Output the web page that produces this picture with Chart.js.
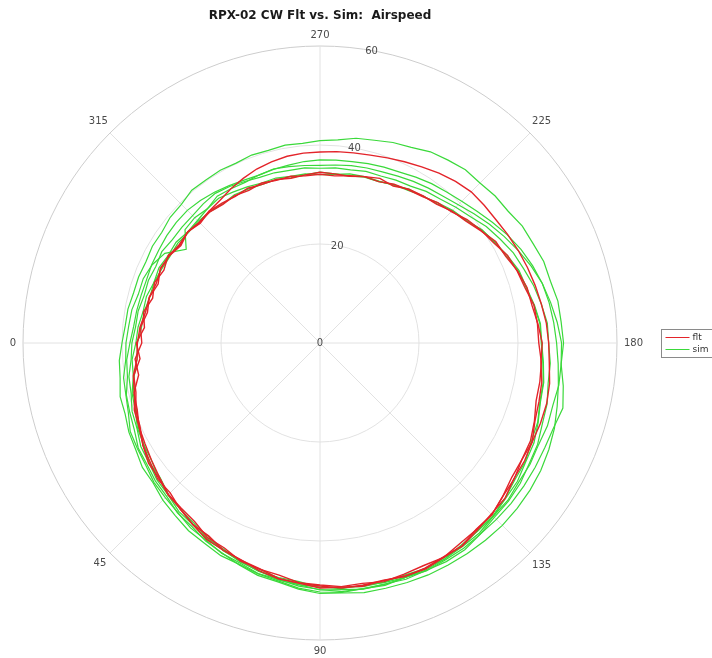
<!DOCTYPE html>
<html>
<head>
<meta charset="utf-8">
<script src="https://cdn.jsdelivr.net/npm/chart.js@4.4.1/dist/chart.umd.min.js"></script>
<style>
  html, body { margin: 0; padding: 0; background: #ffffff; }
  canvas { display: block; }
</style>
</head>
<body>
<canvas id="airspeed" width="712" height="658"></canvas>
<script>
// Heading (deg) of every airspeed sample, one sample per 5 degrees of the orbit
const headingDeg = [
  0, 5, 10, 15, 20, 25, 30, 35, 40, 45, 50, 55, 60, 65, 70, 75, 80, 85,
  90, 95, 100, 105, 110, 115, 120, 125, 130, 135, 140, 145, 150, 155, 160, 165, 170, 175,
  180, 185, 190, 195, 200, 205, 210, 215, 220, 225, 230, 235, 240, 245, 250, 255, 260, 265,
  270, 275, 280, 285, 290, 295, 300, 305, 310, 315, 320, 325, 330, 335, 340, 345, 350, 355
];

// Heading labels around the rim and radial airspeed ticks
const headingTicks = [0, 45, 90, 135, 180, 225, 270, 315];
const speedTicks = [0, 20, 40, 60];
const speedLabelHeading = 260;

// Flight-test airspeed, one array per orbit
const fltLap1 = [
  37.1, 36.5, 38.2, 38.5, 39.6, 40.1, 41.3, 41.9, 42.8, 42.8,
  43.9, 44.8, 45.0, 46.2, 46.7, 47.2, 48.3, 48.7, 49.1, 49.7,
  49.7, 49.6, 50.2, 50.2, 49.9, 50.1, 49.4, 48.9, 48.8, 47.8,
  47.7, 47.3, 46.2, 45.8, 45.5, 44.8, 44.9, 44.2, 43.5, 43.3,
  42.5, 41.4, 41.0, 39.6, 38.4, 37.7, 36.6, 36.3, 35.9, 35.0,
  35.4, 34.8, 34.2, 34.3, 34.5, 34.1, 33.8, 34.2, 34.1, 34.5,
  34.2, 34.5, 34.8, 34.2, 34.9, 34.5, 35.4, 34.8, 35.6, 35.0, 36.2, 35.6
];
const fltLap2 = [
  36.0, 37.5, 37.2, 38.9, 39.3, 40.3, 40.8, 41.5, 42.3, 43.3,
  43.6, 44.1, 45.4, 45.7, 46.9, 47.3, 47.6, 48.6, 48.9, 49.4,
  49.3, 49.9, 49.7, 49.6, 50.0, 49.4, 49.2, 49.1, 48.2, 47.9,
  47.1, 46.9, 46.1, 45.2, 45.1, 44.9, 44.2, 44.1, 43.9, 42.9,
  42.4, 41.8, 40.5, 39.7, 38.8, 37.5, 37.0, 36.1, 35.7, 35.4,
  34.7, 34.8, 34.3, 33.9, 34.1, 33.9, 34.2, 34.0, 34.4, 34.0,
  34.4, 34.2, 34.6, 34.4, 34.9, 34.3, 35.2, 35.6, 34.8, 35.7, 35.4, 36.4
];
const fltLap3 = [
  36.9, 37.1, 38.3, 38.8, 39.9, 40.3, 41.3, 42.3, 42.5, 43.4,
  43.8, 44.8, 45.8, 46.2, 46.6, 47.6, 48.4, 48.7, 49.5, 49.5,
  49.9, 49.7, 50.1, 50.4, 50.0, 50.0, 49.1, 49.1, 48.2, 47.3,
  47.1, 47.3, 47.4, 47.4, 47.1, 46.5, 46.2, 45.9, 45.4, 45.0,
  44.6, 44.2, 43.8, 43.4, 43.3, 43.2, 42.6, 41.9, 41.1, 40.4,
  39.8, 39.3, 39.0, 38.8, 38.6, 38.5, 38.3, 37.9, 37.4, 36.7,
  36.0, 35.2, 34.8, 34.5, 34.9, 34.7, 35.2, 35.5, 35.2, 35.7, 35.8, 36.5
];

// Simulated airspeed, one array per orbit
const simLap1 = [
  40.0, 40.7, 41.0, 41.8, 41.9, 42.6, 43.0, 43.8, 44.0, 44.9,
  45.5, 46.3, 46.7, 47.4, 47.6, 48.3, 48.8, 49.7, 50.3, 50.6,
  50.4, 50.7, 50.4, 50.6, 50.4, 50.2, 50.1, 49.5, 49.5, 49.0,
  49.0, 48.7, 48.9, 48.7, 49.0, 48.9, 49.2, 48.9, 48.8, 48.2,
  48.1, 47.5, 47.2, 46.4, 46.2, 45.7, 45.7, 45.1, 44.6, 43.6,
  43.1, 42.4, 42.0, 41.2, 40.9, 40.5, 40.6, 40.3, 40.4, 40.1,
  40.3, 40.2, 40.3, 39.6, 39.5, 39.0, 39.1, 38.8, 39.0, 39.0, 39.4, 39.5
];
const simLap2 = [
  38.4, 39.2, 39.5, 40.5, 40.9, 41.4, 42.4, 42.7, 43.4, 43.8,
  44.8, 45.2, 46.2, 46.8, 47.7, 48.6, 49.0, 49.9, 50.6, 50.7,
  51.2, 51.3, 51.5, 51.7, 51.8, 51.9, 52.0, 52.1, 52.0, 51.8,
  51.5, 51.0, 50.4, 49.6, 48.9, 48.3, 47.8, 47.4, 47.0, 46.5,
  45.7, 44.8, 43.7, 42.5, 41.4, 40.5, 39.8, 39.3, 38.7, 38.1,
  37.8, 37.5, 37.2, 37.1, 37.0, 36.8, 36.5, 36.3, 36.1, 36.3,
  36.7, 37.2, 37.6, 37.9, 37.9, 37.8, 37.6, 37.5, 37.3, 37.4, 37.6, 37.8
];
const simLap3 = [
  39.2, 39.4, 40.3, 40.6, 41.2, 42.3, 42.6, 43.0, 43.8, 44.2,
  44.7, 45.6, 46.0, 46.9, 47.3, 48.2, 48.5, 49.3, 49.8, 50.4,
  50.4, 50.4, 50.8, 50.7, 51.0, 51.0, 50.4, 50.4, 50.4, 50.3,
  50.2, 50.1, 50.2, 50.8, 49.9, 48.9, 48.8, 48.1, 47.3, 46.5,
  45.4, 44.2, 43.0, 41.8, 40.6, 39.5, 38.7, 38.2, 37.7, 37.2,
  36.8, 36.6, 36.4, 36.1, 35.9, 36.0, 36.2, 36.4, 36.1, 35.8,
  36.0, 36.2, 35.4, 35.8, 35.6, 33.0, 36.2, 37.4, 38.0, 38.0, 38.6, 38.8
];
const simLap4 = [
  37.2, 38.1, 38.3, 39.3, 39.7, 40.7, 41.1, 42.1, 42.2, 43.3,
  43.8, 44.7, 45.1, 46.3, 46.8, 47.3, 48.2, 49.0, 49.3, 49.8,
  49.7, 50.1, 50.4, 50.2, 50.4, 49.8, 49.6, 49.5, 48.9, 48.7,
  48.0, 47.7, 46.9, 46.1, 45.9, 45.3, 44.8, 44.7, 44.0, 43.2,
  42.8, 41.8, 40.7, 39.9, 38.6, 37.9, 37.0, 36.2, 35.9, 35.2,
  34.8, 34.8, 34.7, 34.2, 34.0, 34.3, 34.2, 34.5, 34.4, 34.8,
  35.2, 35.7, 35.4, 35.0, 34.9, 35.5, 35.4, 35.9, 35.7, 36.3, 36.3, 36.9
];
const simLap5 = [
  38.0, 38.3, 39.2, 39.5, 40.4, 40.8, 41.8, 42.2, 43.0, 43.4,
  44.4, 44.8, 45.8, 46.2, 47.1, 47.7, 48.6, 49.0, 49.9, 50.0,
  50.5, 50.5, 50.4, 50.8, 50.6, 50.6, 50.4, 49.8, 49.7, 49.4,
  48.8, 48.5, 47.8, 47.5, 46.8, 46.7, 46.2, 46.1, 45.4, 44.7,
  43.8, 43.1, 42.0, 41.0, 39.7, 38.8, 37.9, 37.4, 36.6, 36.3,
  35.9, 35.9, 35.5, 35.5, 35.3, 35.5, 35.4, 35.6, 35.6, 36.0,
  36.5, 36.9, 36.7, 36.4, 36.4, 36.4, 36.9, 36.6, 36.9, 36.8, 37.3, 37.4
];
const simLap6 = [
  36.9, 37.1, 38.1, 39.1, 39.4, 40.5, 41.1, 41.5, 42.5, 43.4,
  43.9, 44.4, 45.6, 46.0, 46.9, 47.8, 48.1, 48.4, 49.4, 49.5,
  50.0, 50.0, 49.9, 50.3, 50.1, 50.1, 49.5, 49.4, 48.8, 48.1,
  47.9, 47.1, 46.8, 46.0, 45.8, 45.2, 44.7, 44.6, 43.9, 43.1,
  42.6, 41.5, 40.8, 39.9, 38.5, 37.7, 36.7, 36.3, 35.6, 35.3,
  34.7, 34.7, 34.3, 34.3, 34.5, 34.1, 33.9, 34.2, 34.1, 34.3,
  34.6, 34.3, 34.6, 34.8, 34.7, 35.1, 35.0, 35.3, 35.7, 35.6, 36.1, 36.2
];

const fltLaps = [fltLap1, fltLap2, fltLap3];
const simLaps = [simLap1, simLap2, simLap3, simLap4, simLap5, simLap6];
const seriesNames = ['flt', 'sim'];
const seriesColors = ['#e3242a', '#3ad93a'];
const seriesWidths = [1.4, 1.2];

// The radar scale walks its categories clockwise, so list headings in
// reverse: starting on the left and turning anticlockwise (0 -> 90 at the bottom).
const reorder = arr => arr.map((_, k) => arr[(arr.length - k) % arr.length]);
const displayHeadings = reorder(headingDeg);

const lapDataset = (lap, i) => ({
  label: seriesNames[i],
  data: reorder(lap),
  borderColor: seriesColors[i],
  backgroundColor: seriesColors[i],
  borderWidth: seriesWidths[i],
  fill: false,
  pointRadius: 0,
  pointHoverRadius: 0,
  tension: 0
});

const datasets = [
  ...fltLaps.map(lap => lapDataset(lap, 0)),
  ...simLaps.map(lap => lapDataset(lap, 1))
];

const FONT = 'DejaVu Sans';
Chart.defaults.font.family = FONT;

// Heading labels round the rim plus airspeed labels along one spoke
const polarText = {
  id: 'polarText',
  afterDatasetsDraw(chart) {
    const r = chart.scales.r;
    const c = chart.ctx;
    const labels = chart.data.labels;
    c.save();
    c.font = '10px "' + FONT + '"';
    c.fillStyle = '#4a4a4a';
    c.textAlign = 'center';
    c.textBaseline = 'middle';

    const spoke = labels.indexOf(speedLabelHeading);
    r.ticks.forEach(t => {
      const p = r.getPointPositionForValue(spoke, t.value);
      c.fillText(String(t.value), p.x, p.y + 0.5);
    });

    headingTicks.forEach(a => {
      const idx = labels.indexOf(a);
      const txt = String(a);
      const w = c.measureText(txt).width;
      const h = 7.5;
      const ang = r.getIndexAngle(idx) - Math.PI / 2;
      const half = Math.abs(Math.cos(ang)) * w / 2 + Math.abs(Math.sin(ang)) * h / 2;
      const p = r.getPointPosition(idx, r.drawingArea + 7 + half);
      c.fillText(txt, p.x, p.y + 0.5);
    });
    c.restore();
  }
};

// Boxed legend with line samples, to the right of the polar axes
const boxedLegend = {
  id: 'boxedLegend',
  afterDraw(chart) {
    const c = chart.ctx;
    const r = chart.scales.r;
    const x0 = Math.round(r.xCenter + r.drawingArea + 44) + 0.5;
    const y0 = r.yCenter - 14 + 0.5;
    c.save();
    c.fillStyle = '#ffffff';
    c.fillRect(x0, y0, 70, 28);
    c.strokeStyle = '#8a8a8a';
    c.lineWidth = 1;
    c.strokeRect(x0, y0, 70, 28);
    c.font = '9px "' + FONT + '"';
    c.textAlign = 'left';
    c.textBaseline = 'middle';
    seriesNames.forEach((name, i) => {
      const y = Math.round(r.yCenter - 6 + i * 12) + 0.5;
      c.strokeStyle = seriesColors[i];
      c.beginPath();
      c.moveTo(x0 + 4, y);
      c.lineTo(x0 + 28, y);
      c.stroke();
      c.fillStyle = '#333333';
      c.fillText(name, x0 + 31, y);
    });
    c.restore();
  }
};

new Chart(document.getElementById('airspeed'), {
  type: 'radar',
  data: { labels: displayHeadings, datasets },
  options: {
    responsive: false,
    animation: false,
    devicePixelRatio: 1,
    layout: { padding: { left: 23, right: 95, top: 0, bottom: 18 } },
    plugins: {
      legend: { display: false },
      tooltip: { enabled: false },
      title: {
        display: true,
        fullSize: false,
        text: 'RPX-02 CW Flt vs. Sim:  Airspeed',
        color: '#1a1a1a',
        font: { family: FONT, size: 12, weight: 'bold', lineHeight: 1.2 },
        padding: { top: 9, bottom: 22.6 }
      }
    },
    scales: {
      r: {
        startAngle: 270,
        min: speedTicks[0],
        max: speedTicks[speedTicks.length - 1],
        ticks: { stepSize: speedTicks[1] - speedTicks[0], display: false },
        pointLabels: { display: false },
        grid: {
          circular: true,
          lineWidth: 1,
          color: ctx => (ctx.tick && ctx.tick.value === speedTicks[speedTicks.length - 1]) ? '#cdcdcd' : '#e2e2e2'
        },
        angleLines: {
          display: true,
          color: '#e2e2e2',
          lineWidth: ctx => (headingTicks.includes(displayHeadings[ctx.index]) ? 1 : 0)
        }
      }
    }
  },
  plugins: [polarText, boxedLegend]
});
</script>
</body>
</html>
